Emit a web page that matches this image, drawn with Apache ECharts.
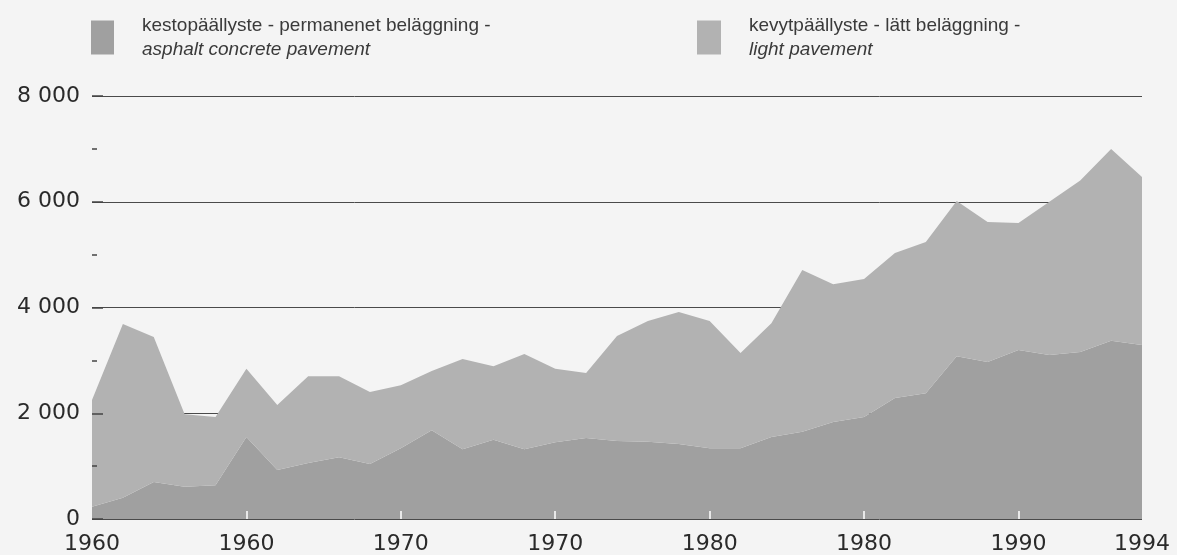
<!DOCTYPE html>
<html>
<head>
<meta charset="utf-8">
<script src="https://cdn.jsdelivr.net/npm/echarts@6/dist/echarts.min.js"></script>
<style>
  html, body { margin: 0; padding: 0; background: #f4f4f4; }
  #main { width: 1177px; height: 555px; }
</style>
</head>
<body>
<div id="main"></div>
<script>
// yearly values 1960-1994, km
var years = [];
for (var y = 1960; y <= 1994; y++) years.push(String(y));

var asphalt = [230, 400, 700, 610, 640, 1550, 925, 1060, 1170, 1040,
  1340, 1680, 1320, 1500, 1320, 1450, 1530, 1475, 1460, 1420,
  1340, 1340, 1550, 1650, 1835, 1930, 2290, 2380, 3080, 2970,
  3195, 3100, 3160, 3370, 3290];
var light = [2020, 3290, 2740, 1370, 1290, 1290, 1230, 1640, 1530, 1360,
  1190, 1120, 1705, 1390, 1800, 1390, 1230, 1985, 2285, 2495,
  2405, 1800, 2150, 3060, 2605, 2610, 2740, 2860, 2935, 2645,
  2405, 2900, 3240, 3630, 3180];

// labels as printed under the axis
var tickIndex = [0, 5, 10, 15, 20, 25, 30, 34];
var tickText = ["1960", "1960", "1970", "1970", "1980", "1980", "1990", "1994"];

var nameAsphalt = "kestopäällyste - permanenet beläggning -\nasphalt concrete pavement";
var nameLight = "kevytpäällyste - lätt beläggning -\nlight pavement";

var darkGrey = "#a0a0a0";
var lightGrey = "#b2b2b2";

function legendFormatter(name) {
  var parts = name.split("\n");
  return "{a|" + parts[0] + "}\n{b|" + parts[1] + "}";
}
var legendText = {
  padding: [0, 0, 0, 23],
  rich: {
    a: { fontFamily: "Liberation Sans", fontSize: 19, color: "#3a3a3a", lineHeight: 24 },
    b: { fontFamily: "Liberation Sans", fontSize: 19, color: "#3a3a3a", lineHeight: 24, fontStyle: "italic" }
  }
};

var myChart = echarts.init(document.getElementById("main"));
var option = {
  backgroundColor: "#f4f4f4",
  animation: false,
  legend: [
    {
      data: [nameAsphalt], left: 86, top: 11, icon: "rect",
      itemWidth: 23, itemHeight: 34, formatter: legendFormatter, textStyle: legendText
    },
    {
      data: [nameLight], left: 692, top: 11, icon: "rect",
      itemWidth: 24, itemHeight: 34, formatter: legendFormatter, textStyle: legendText
    }
  ],
  grid: { left: 92, right: 35, top: 96, bottom: 36 },
  xAxis: {
    type: "category",
    data: years,
    boundaryGap: false,
    z: 5,
    axisLine: { show: false },
    axisTick: {
      show: true,
      inside: true,
      length: 8,
      interval: function (i) { return i % 5 === 0 && i > 0 && i < 34; },
      lineStyle: { color: "#ffffff", width: 1.5 }
    },
    axisLabel: {
      interval: function (i) { return tickIndex.indexOf(i) >= 0; },
      formatter: function (v, i) {
        var k = tickIndex.indexOf(i);
        return k >= 0 ? tickText[k] : "";
      },
      margin: 14,
      fontFamily: "DejaVu Sans",
      fontSize: 22,
      color: "#2a2a2a"
    }
  },
  yAxis: [
    {
      type: "value",
      min: 0,
      max: 8000,
      interval: 2000,
      axisLine: { show: false },
      axisTick: { show: false },
      axisLabel: {
        margin: 12,
        fontFamily: "DejaVu Sans",
        fontSize: 22,
        color: "#2a2a2a",
        formatter: function (v) {
          return v >= 1000 ? (v / 1000) + " 000" : String(v);
        }
      },
      splitLine: { show: true, lineStyle: { color: "#4a4a4a", width: 1 } }
    },
    {
      type: "value",
      min: 0,
      max: 8000,
      interval: 2000,
      position: "left",
      z: 5,
      axisLine: { show: false },
      axisLabel: { show: false },
      splitLine: { show: false },
      axisTick: { show: true, inside: true, length: 11, lineStyle: { color: "#444", width: 1.5 } },
      minorTick: { show: true, splitNumber: 2, length: 5, lineStyle: { color: "#444", width: 1.5 } }
    }
  ],
  series: [
    {
      name: nameAsphalt,
      type: "line",
      stack: "total",
      data: asphalt,
      symbol: "none",
      color: darkGrey,
      lineStyle: { width: 0 },
      areaStyle: { color: darkGrey, opacity: 1 }
    },
    {
      name: nameLight,
      type: "line",
      stack: "total",
      data: light,
      symbol: "none",
      color: lightGrey,
      lineStyle: { width: 0 },
      areaStyle: { color: lightGrey, opacity: 1 }
    }
  ]
};
myChart.setOption(option);
</script>
</body>
</html>
